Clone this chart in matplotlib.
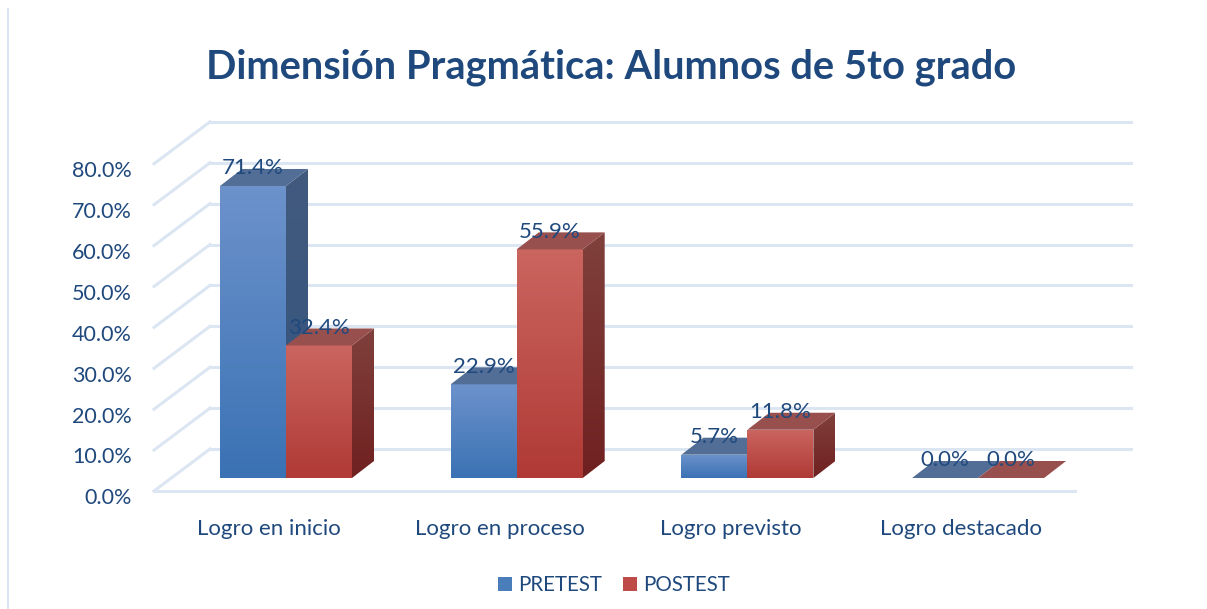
import numpy as np
import matplotlib
matplotlib.use('Agg')
import matplotlib.pyplot as plt
from matplotlib.lines import Line2D
from matplotlib.patches import Patch, Polygon
from matplotlib.colors import LinearSegmentedColormap

# --- Data ---
categories = ['Logro en inicio', 'Logro en proceso', 'Logro previsto', 'Logro destacado']
pretest = [71.4, 22.9, 5.7, 0.0]
postest = [32.4, 55.9, 11.8, 0.0]
y_levels = [0, 10, 20, 30, 40, 50, 60, 70, 80]

W, H = 1207, 609
TEXT = '#1F497D'
GRID = '#DCE6F3'

plt.rcParams['font.family'] = ['Lato', 'DejaVu Sans']

# pixel scale of the picture
px_x = 230.7     # pixels per category
px_y = 4.09      # pixels per percent
base_y = 478     # pixel row of the bars' zero
first_x = 286    # pixel column of the first category

bar_w = 66 / px_x
dx_bar, dy_bar = 22 / px_x, 17 / px_y
dx_wall, dy_wall = 56 / px_x, 42 / px_y
floor = -13 / px_y

fig = plt.figure(figsize=(W / 100, H / 100), dpi=100)
left, right = 154, 1075
bottom, top = 500, 121
ax = fig.add_axes([left / W, 1 - bottom / H, (right - left) / W, (bottom - top) / H])
xlim = ((left - first_x) / px_x, (right - first_x) / px_x)
ylim = ((base_y - bottom) / px_y, (base_y - top) / px_y)


def gradient(verts, c_top, c_bottom):
    """Fills a polygon with a vertical gradient."""
    verts = np.array(verts)
    cmap = LinearSegmentedColormap.from_list('g', [c_bottom, c_top])
    grad = np.linspace(1, 0, 64).reshape(-1, 1)
    im = ax.imshow(grad, cmap=cmap, aspect='auto', zorder=3, clip_on=True, vmin=0, vmax=1,
                   extent=[verts[:, 0].min(), verts[:, 0].max(), verts[:, 1].min(), verts[:, 1].max()])
    clip = Polygon(verts, closed=True, transform=ax.transData)
    im.set_clip_path(clip)


def draw_bar(x0, v, front, side, roof):
    x1 = x0 + bar_w
    if v > 0:
        gradient([(x0, 0), (x1, 0), (x1, v), (x0, v)], *front)
        gradient([(x1, 0), (x1 + dx_bar, dy_bar), (x1 + dx_bar, v + dy_bar), (x1, v)], *side)
    ax.add_patch(Polygon([(x0, v), (x1, v), (x1 + dx_bar, v + dy_bar), (x0 + dx_bar, v + dy_bar)],
                         closed=True, facecolor=roof, edgecolor='none', zorder=3, clip_on=False))


# Grid: floor line, back wall lines and diagonals
for lev in y_levels:
    y0 = lev + floor
    ax.plot([xlim[0], xlim[0] + dx_wall], [y0, y0 + dy_wall], color=GRID, lw=2.2, zorder=1, clip_on=False)
    ax.plot([xlim[0] + dx_wall, xlim[1] + dx_wall], [y0 + dy_wall, y0 + dy_wall], color=GRID, lw=2.2,
            zorder=1, clip_on=False)
ax.plot(xlim, [floor, floor], color=GRID, lw=2.2, zorder=1, clip_on=False)

# Bars
for i, cat in enumerate(categories):
    draw_bar(i - bar_w, pretest[i], ('#6C92CB', '#3B72B4'), ('#435A7E', '#325480'), '#526E96')
    draw_bar(i, postest[i], ('#CB655F', '#B03A36'), ('#80403C', '#6F2120'), '#97504E')
    ax.text(i - bar_w / 2, pretest[i] + dy_bar + 0.2, '%.1f%%' % pretest[i], color=TEXT, fontsize=16,
            ha='center', va='center', zorder=5)
    ax.text(i + bar_w / 2, postest[i] + dy_bar + 0.2, '%.1f%%' % postest[i], color=TEXT, fontsize=16,
            ha='center', va='center', zorder=5)

# category labels sit a little left of the bars, as in the 3D layout
ax.set_xticks([i - 17 / px_x for i in range(len(categories))])
ax.set_xticklabels(categories, color=TEXT, fontsize=16)
ax.set_yticks([lev + floor - 1.3 for lev in y_levels])
ax.set_yticklabels(['%.1f%%' % lev for lev in y_levels], color=TEXT, fontsize=15.5)
ax.set_xlim(xlim)
ax.set_ylim(ylim)
ax.tick_params(axis='both', length=0)
ax.tick_params(axis='x', pad=14)
ax.tick_params(axis='y', pad=16)
for s in ax.spines.values():
    s.set_visible(False)
ax.patch.set_alpha(0)

fig.text(611 / W, 1 - 67 / H, 'Dimensión Pragmática: Alumnos de 5to grado', color=TEXT,
         fontsize=28.7, fontweight='bold', ha='center', va='center')

handles = [Patch(facecolor='#4A7EBB', label='PRETEST'), Patch(facecolor='#BE4B48', label='POSTEST')]
fig.legend(handles=handles, loc='center', bbox_to_anchor=(614 / W, 1 - 585 / H), ncol=2, frameon=False,
           fontsize=14.8, labelcolor=TEXT, handlelength=0.7, handleheight=0.68, handletextpad=0.3,
           columnspacing=1.0)

# chart border on the left edge
fig.add_artist(Line2D([7.5 / W, 7.5 / W], [0, 1 - 9 / H], color='#D9E4F4', lw=1.5))

fig.savefig('out.png', dpi=100)
